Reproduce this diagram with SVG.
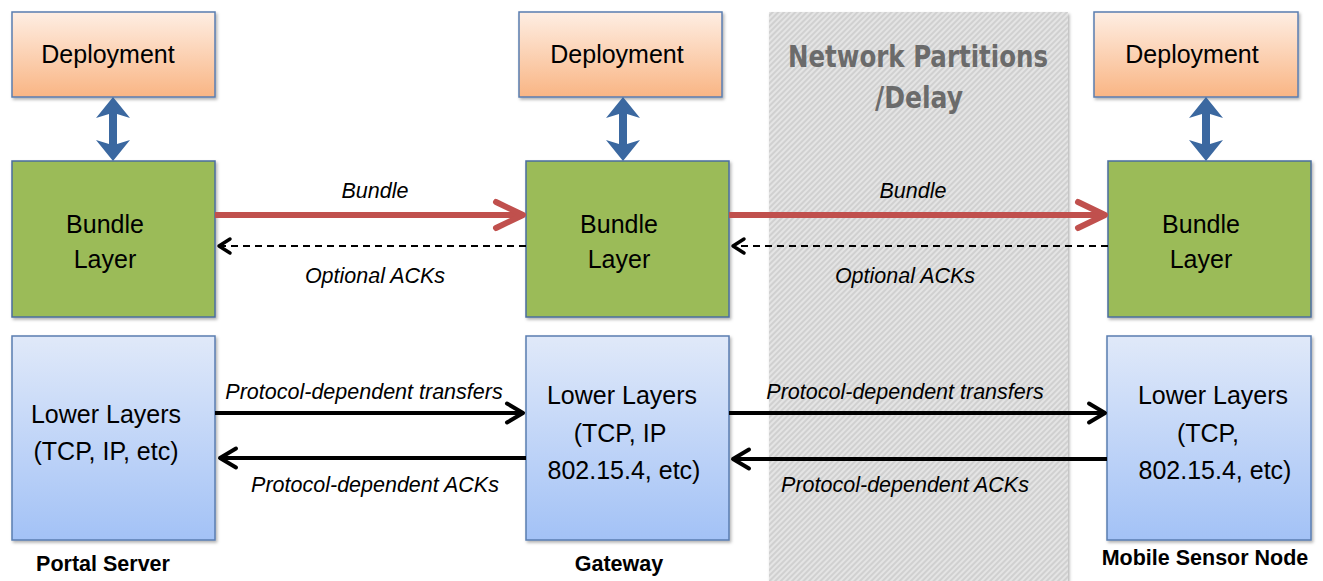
<svg xmlns="http://www.w3.org/2000/svg" width="1323" height="581" viewBox="0 0 1323 581">
<defs>
<linearGradient id="gDep" x1="0" y1="0" x2="0" y2="1">
<stop offset="0" stop-color="#FEEEE3"/>
<stop offset="1" stop-color="#F9B584"/>
</linearGradient>
<linearGradient id="gLow" x1="0" y1="0" x2="0" y2="1">
<stop offset="0" stop-color="#E0E9F9"/>
<stop offset="1" stop-color="#A3C2F6"/>
</linearGradient>
<pattern id="hatch" width="4" height="4" patternUnits="userSpaceOnUse" patternTransform="rotate(45)">
<rect width="4" height="4" fill="#D0D0D0"/>
<line x1="1" y1="0" x2="1" y2="4" stroke="#E9E9E9" stroke-width="1.6"/>
</pattern>
<filter id="sh" x="-10%" y="-10%" width="130%" height="130%">
<feDropShadow dx="1.5" dy="2" stdDeviation="1.5" flood-color="#000" flood-opacity="0.3"/>
</filter>
<marker id="mRed" markerUnits="userSpaceOnUse" viewBox="-32 -17 36 34" refX="0" refY="0" markerWidth="36" markerHeight="34" orient="auto" overflow="visible">
<path d="M-27,-13 L0,0 L-27,13" fill="none" stroke="#C0504D" stroke-width="6" stroke-linecap="round" stroke-linejoin="round"/>
</marker>
<marker id="mBlk" markerUnits="userSpaceOnUse" viewBox="-22 -13 26 26" refX="0" refY="0" markerWidth="26" markerHeight="26" orient="auto" overflow="visible">
<path d="M-16,-9.5 L0,0 L-16,9.5" fill="none" stroke="#000" stroke-width="4" stroke-linecap="round" stroke-linejoin="round"/>
</marker>
<marker id="mDash" markerUnits="userSpaceOnUse" viewBox="-16 -10 20 20" refX="0" refY="0" markerWidth="20" markerHeight="20" orient="auto" overflow="visible">
<path d="M-11,-7 L0,0 L-11,7" fill="none" stroke="#000" stroke-width="3.5" stroke-linecap="round" stroke-linejoin="round"/>
</marker>
</defs>
<style>
.dep{fill:url(#gDep);stroke:#5A7DB0;stroke-width:1.5;filter:url(#sh)}
.bun{fill:#9BBB59;stroke:#4A6E9E;stroke-width:1.5;filter:url(#sh)}
.low{fill:url(#gLow);stroke:#5A7DB0;stroke-width:1.5;filter:url(#sh)}
.bt{font-family:"Liberation Sans",Arial,sans-serif;font-size:25px;fill:#000;text-anchor:middle}
.lbl{font-family:"Liberation Sans",Arial,sans-serif;font-size:21.5px;font-style:italic;fill:#000;text-anchor:middle}
.cap{font-family:"Liberation Sans",Arial,sans-serif;font-size:21.5px;font-weight:bold;fill:#000;text-anchor:middle}
.np{font-family:"Liberation Sans Narrow","DejaVu Sans Condensed","Liberation Sans",sans-serif;font-size:30px;font-weight:bold;fill:#6B6B6B;text-anchor:middle}
.dbl{fill:#3B68A0}
.red{stroke:#C0504D;stroke-width:6;fill:none;marker-end:url(#mRed)}
.solid{stroke:#000;stroke-width:4;fill:none;marker-end:url(#mBlk)}
.dash{stroke:#000;stroke-width:2;stroke-dasharray:7 5;fill:none;marker-end:url(#mDash)}
</style>
<rect width="1323" height="581" fill="#FFFFFF"/>

<g id="network-partitions">
<rect x="769" y="12" width="299" height="575" fill="url(#hatch)" filter="url(#sh)"/>
<text class="np" x="918" y="67" textLength="260" lengthAdjust="spacingAndGlyphs">Network Partitions</text>
<text class="np" x="919" y="108" textLength="88" lengthAdjust="spacingAndGlyphs">/Delay</text>
</g>

<g id="portal-deployment">
<rect class="dep" x="12" y="12" width="203" height="85"/>
<text class="bt" x="108" y="63">Deployment</text>
</g>
<g id="portal-bundle">
<rect class="bun" x="12" y="161" width="203" height="156"/>
<text class="bt" x="105" y="233">Bundle</text>
<text class="bt" x="105" y="268">Layer</text>
</g>
<g id="portal-lower">
<rect class="low" x="12" y="336" width="203" height="204"/>
<text class="bt" x="106" y="423">Lower Layers</text>
<text class="bt" x="106" y="460">(TCP, IP, etc)</text>
</g>
<g id="portal-server-label">
<text class="cap" x="103" y="571">Portal Server</text>
</g>

<g id="gateway-deployment">
<rect class="dep" x="519" y="12" width="203" height="85"/>
<text class="bt" x="617" y="63">Deployment</text>
</g>
<g id="gateway-bundle">
<rect class="bun" x="526" y="161" width="203" height="156"/>
<text class="bt" x="619" y="233">Bundle</text>
<text class="bt" x="619" y="268">Layer</text>
</g>
<g id="gateway-lower">
<rect class="low" x="526" y="336" width="203" height="204"/>
<text class="bt" x="622" y="404">Lower Layers</text>
<text class="bt" x="620" y="441.5">(TCP, IP</text>
<text class="bt" x="624" y="479">802.15.4, etc)</text>
</g>
<g id="gateway-label">
<text class="cap" x="619" y="571">Gateway</text>
</g>

<g id="mobile-deployment">
<rect class="dep" x="1094" y="12" width="204" height="85"/>
<text class="bt" x="1192" y="63">Deployment</text>
</g>
<g id="mobile-bundle">
<rect class="bun" x="1108" y="161" width="203" height="156"/>
<text class="bt" x="1201" y="233">Bundle</text>
<text class="bt" x="1201" y="268">Layer</text>
</g>
<g id="mobile-lower">
<rect class="low" x="1107" y="336" width="204" height="204"/>
<text class="bt" x="1213" y="404">Lower Layers</text>
<text class="bt" x="1208" y="441.5">(TCP,</text>
<text class="bt" x="1215" y="479">802.15.4, etc)</text>
</g>
<g id="mobile-label">
<text class="cap" x="1205" y="565">Mobile Sensor Node</text>
</g>

<g id="connectors">
<path class="dbl" d="M113,97 L130,118 L117,114 L117,144 L130,140 L113,161 L96,140 L109,144 L109,114 L96,118 Z"/>
<path class="dbl" d="M623,97 L640,118 L627,114 L627,144 L640,140 L623,161 L606,140 L619,144 L619,114 L606,118 Z"/>
<path class="dbl" d="M1206,97 L1223,118 L1210,114 L1210,144 L1223,140 L1206,161 L1189,140 L1202,144 L1202,114 L1189,118 Z"/>

<line class="red" x1="215" y1="215" x2="523" y2="215"/>
<line class="red" x1="729" y1="215" x2="1105" y2="215"/>
<line class="dash" x1="526" y1="246" x2="219" y2="246"/>
<line class="dash" x1="1108" y1="246" x2="733" y2="246"/>

<line class="solid" x1="215" y1="413" x2="523" y2="413"/>
<line class="solid" x1="526" y1="458" x2="220" y2="458"/>
<line class="solid" x1="729" y1="413" x2="1105" y2="413"/>
<line class="solid" x1="1107" y1="459" x2="733" y2="459"/>
</g>

<g id="connector-labels">
<text class="lbl" x="375" y="198">Bundle</text>
<text class="lbl" x="375" y="283">Optional ACKs</text>
<text class="lbl" x="913" y="198">Bundle</text>
<text class="lbl" x="905" y="283">Optional ACKs</text>
<text class="lbl" x="364" y="399">Protocol-dependent transfers</text>
<text class="lbl" x="375" y="492">Protocol-dependent ACKs</text>
<text class="lbl" x="905" y="399">Protocol-dependent transfers</text>
<text class="lbl" x="905" y="492">Protocol-dependent ACKs</text>
</g>
</svg>
